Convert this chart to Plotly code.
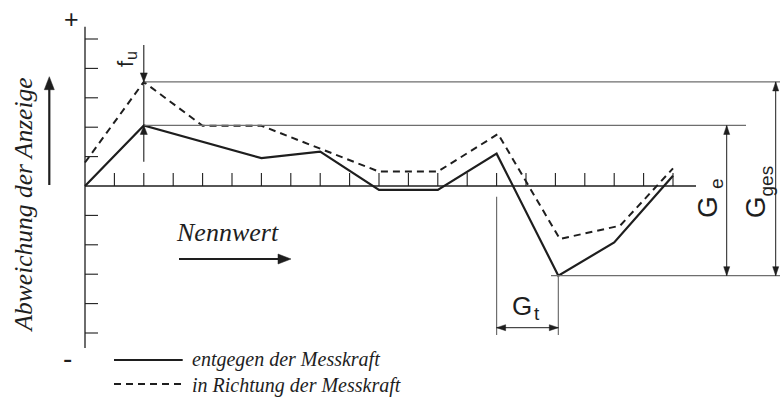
import plotly.graph_objects as go

# ---------------- data ----------------
x_solid = [0, 2, 6, 8, 10, 12, 14, 16.1, 18, 20]
y_solid = [0, 2.06, 0.95, 1.17, -0.13, -0.13, 1.1, -3.05, -1.92, 0.35]

x_dashed = [0, 2, 4, 6, 10, 12, 14.05, 16.15, 18.2, 20]
y_dashed = [0.8, 3.54, 2.05, 2.05, 0.49, 0.49, 1.77, -1.8, -1.35, 0.6]

x_ticks = list(range(1, 21))
y_ticks = [-5, -4, -3, -2, -1, 1, 2, 3, 4, 5]

series_names = ["entgegen der Messkraft", "in Richtung der Messkraft"]
y_title = "Abweichung der Anzeige"
x_title = "Nennwert"

# ---------------- geometry (1 unit = 29.4 px on both axes) ----------------
U = 29.4
PAGE_W, PAGE_H = 781, 406
X0, Y0 = 85, 186  # page-pixel position of origin


def px(p):
    return (p - X0) / U


def py(p):
    return (Y0 - p) / U


DARK = "#1e1e1e"
GRAY = "#6e6e6e"
SERIF = "Liberation Serif"
SANS = "Liberation Sans"
DASH = "7px,5px"

fig = go.Figure()

fig.add_trace(go.Scatter(x=x_solid, y=y_solid, mode="lines",
                         line=dict(color=DARK, width=2.2),
                         name=series_names[0], showlegend=False, hoverinfo="skip"))
fig.add_trace(go.Scatter(x=x_dashed, y=y_dashed, mode="lines",
                         line=dict(color=DARK, width=2, dash=DASH),
                         name=series_names[1], showlegend=False, hoverinfo="skip"))

shapes = []


def seg(x0, y0, x1, y1, color=DARK, width=1.0, dash=None):
    ln = dict(color=color, width=width)
    if dash:
        ln["dash"] = dash
    shapes.append(dict(type="line", xref="x", yref="y", x0=x0, y0=y0, x1=x1, y1=y1,
                       line=ln, layer="above"))


def head(tx, ty, dx, dy, L, Wd, color=DARK):
    l = L / U
    w = Wd / U / 2
    bx, by = tx - dx * l, ty - dy * l
    pxv, pyv = -dy, dx
    path = (f"M {tx},{ty} L {bx + pxv * w},{by + pyv * w} "
            f"L {bx - pxv * w},{by - pyv * w} Z")
    shapes.append(dict(type="path", xref="x", yref="y", path=path,
                       fillcolor=color, line=dict(color=color, width=0.5), layer="above"))


# axes
seg(0, py(26.7), 0, py(348), width=1.3)
seg(0, 0, px(696), 0, width=1.3)
for k in x_ticks:
    seg(k, 0, k, 13 / U, width=1.1)
for v in y_ticks:
    seg(0, v, 13 / U, v, width=1.1)

# reference levels derived from data
top = max(y_dashed)
x_top = x_dashed[y_dashed.index(top)]
mid = max(y_solid)
x_mid = x_solid[y_solid.index(mid)]
low = min(y_solid)
x_low = x_solid[y_solid.index(low)]
x_gt = x_solid[6]

seg(x_top, top, px(780), top, color=GRAY, width=1.2)
seg(x_mid, mid, px(746), mid, color=GRAY, width=1.2)
seg(px(551), low, px(780), low, color=GRAY, width=1.2)

# G_e and G_ges dimension arrows
for xa, ya in [(px(726.7), mid), (px(775.7), top)]:
    seg(xa, ya, xa, low, color=DARK, width=1.0)
    head(xa, ya, 0, 1, 9, 6)
    head(xa, low, 0, -1, 9, 6)

# G_t
y_gt_bot = py(335)
seg(x_gt, py(196.7), x_gt, y_gt_bot, color=GRAY, width=1.2)
seg(x_low, low, x_low, y_gt_bot, color=GRAY, width=1.2)
y_arr = py(327.7)
seg(x_gt, y_arr, x_low, y_arr, color=DARK, width=1.0)
head(x_gt, y_arr, -1, 0, 9, 6)
head(x_low, y_arr, 1, 0, 9, 6)

# f_u
seg(x_top, py(45), x_top, py(161.7), color=DARK, width=1.1)
head(x_top, top, 0, -1, 9, 7)
head(x_mid, mid, 0, 1, 9, 7)

# big arrows
seg(px(49.3), py(185), px(49.3), py(88), width=2.2)
head(px(49.3), py(76.7), 0, 1, 13, 10)
seg(px(179), py(259), px(280), py(259), width=2.2)
head(px(291), py(259), 1, 0, 13, 10)

# legend samples
seg(px(114), py(360), px(182.7), py(360), width=2.2)
seg(px(114), py(384), px(182.7), py(384), width=2, dash=DASH)

annotations = []


def txt(text, x, y, size, family, angle=0, xanchor="center", color=DARK, style="normal"):
    annotations.append(dict(text=text, x=x, y=y, xref="x", yref="y", showarrow=False,
                            textangle=angle, xanchor=xanchor, yanchor="middle",
                            font=dict(size=size, family=family, color=color, style=style)))


txt("+", px(71), py(18.5), 25, SANS)
txt("-", px(67.5), py(358), 28, SANS)
# f_u (rotated)
txt("f", px(125), py(64), 22, SANS, angle=-90)
txt("u", px(131.5), py(55.5), 16, SANS, angle=-90)
# G_e (rotated)
txt("G", px(707), py(207), 28, SANS, angle=-90)
txt("e", px(716), py(184), 19, SANS, angle=-90)
# G_ges (rotated)
txt("G", px(755), py(207.3), 28, SANS, angle=-90)
txt("ges", px(766), py(181.5), 19, SANS, angle=-90)
# G_t
txt("G", px(522.3), py(305.8), 26, SANS)
txt("t", px(536.5), py(313), 19, SANS)

txt(y_title, px(23), py(205.5), 25.5, SERIF, angle=-90, style="italic")
txt(x_title, px(227), py(232), 26, SERIF, style="italic")
txt(series_names[0], px(190), py(359), 20, SERIF, xanchor="left", style="italic")
txt(series_names[1], px(190), py(385), 20, SERIF, xanchor="left", style="italic")

fig.update_layout(
    width=PAGE_W, height=PAGE_H,
    margin=dict(l=0, r=0, t=0, b=0, pad=0),
    paper_bgcolor="white", plot_bgcolor="white",
    xaxis=dict(visible=False, range=[px(0), px(PAGE_W)], fixedrange=True),
    yaxis=dict(visible=False, range=[py(PAGE_H), py(0)], fixedrange=True),
    shapes=shapes, annotations=annotations,
    showlegend=False,
)

fig.write_html("out.html", config={"displayModeBar": False},
               post_script="document.body.style.margin='0px';document.body.style.overflow='hidden';")
